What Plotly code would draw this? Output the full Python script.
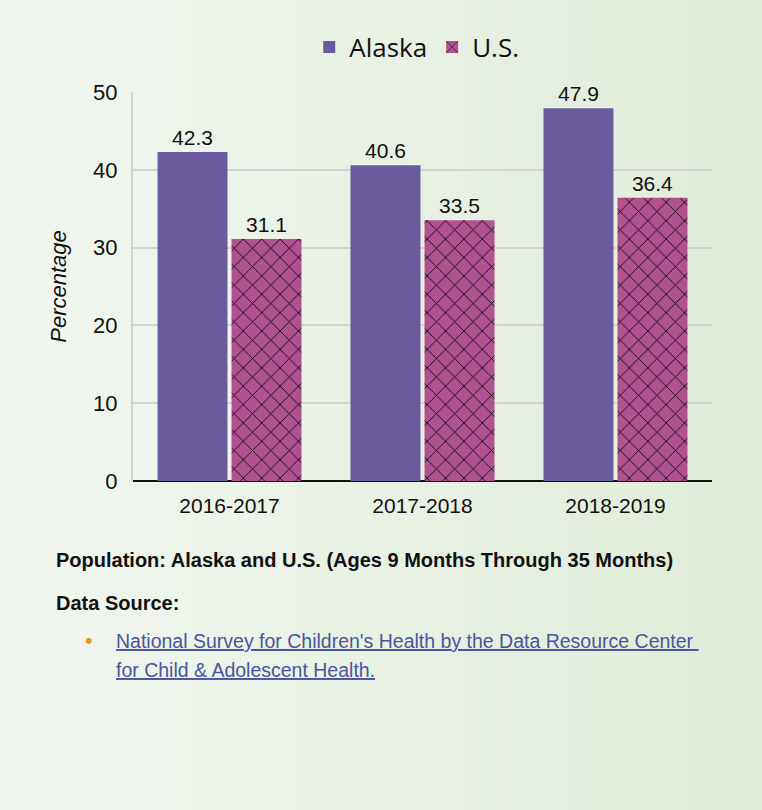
import plotly.graph_objects as go

# ---- data ----
categories = ["2016-2017", "2017-2018", "2018-2019"]
alaska_values = [42.3, 40.6, 47.9]
us_values = [31.1, 33.5, 36.4]
series_names = ["Alaska", "U.S."]
y_ticks = [0, 10, 20, 30, 40, 50]

W, H = 762, 810
ML, MR, MT, MB = 133, 50, 92, 329

ALASKA_COLOR = "#6a5a9e"
US_COLOR = "#b0528f"
FONT = "Liberation Sans, Arial, sans-serif"
NOTE_FONT = "Liberation Sans, Arial, sans-serif"

fig = go.Figure()
fig.add_trace(go.Bar(
    x=categories, y=alaska_values, name=series_names[0],
    marker=dict(color=ALASKA_COLOR, line=dict(width=0)),
    text=[f"{v:.1f}" for v in alaska_values], textposition="outside",
    textfont=dict(family=FONT, size=21, color="#111111"),
    cliponaxis=False,
))
fig.add_trace(go.Bar(
    x=categories, y=us_values, name=series_names[1],
    marker=dict(color=US_COLOR, line=dict(width=0),
                pattern=dict(shape="x", fgcolor="#000000", bgcolor=US_COLOR,
                             size=13, solidity=0.12, fillmode="replace")),
    text=[f"{v:.1f}" for v in us_values], textposition="outside",
    textfont=dict(family=FONT, size=21, color="#111111"),
    cliponaxis=False,
))

# gradient background (style only)
shapes = []
n = 60
c0 = (241, 246, 239)
c1 = (224, 236, 217)
pw = W - ML - MR
ph = H - MT - MB
for i in range(n):
    t = i / (n - 1)
    col = tuple(round(c0[k] + (c1[k] - c0[k]) * t) for k in range(3))
    x0 = (-ML + W * i / n) / pw
    x1 = (-ML + W * (i + 1) / n + 1) / pw
    shapes.append(dict(type="rect", xref="paper", yref="paper",
                       x0=x0, x1=x1, y0=-MB / ph, y1=(ph + MT) / ph,
                       fillcolor="rgb(%d,%d,%d)" % col, line=dict(width=0),
                       layer="below"))

def px_x(x):
    return (x - ML) / pw

def px_y(y):
    return (H - MB - y) / ph

annotations = [
    dict(text="<b>Population: Alaska and U.S. (Ages 9 Months Through 35 Months)</b>",
         x=px_x(54), y=px_y(560), xref="paper", yref="paper",
         xanchor="left", yanchor="middle", showarrow=False,
         font=dict(family=NOTE_FONT, size=20, color="#111111")),
    dict(text="<b>Data Source:</b>",
         x=px_x(54), y=px_y(603), xref="paper", yref="paper",
         xanchor="left", yanchor="middle", showarrow=False,
         font=dict(family=NOTE_FONT, size=20, color="#111111")),
    dict(text="•",
         x=px_x(83), y=px_y(640), xref="paper", yref="paper",
         xanchor="left", yanchor="middle", showarrow=False,
         font=dict(family=FONT, size=22, color="#e0962e")),
    dict(text="National Survey for Children's Health by the Data Resource Center ",
         x=px_x(114), y=px_y(641), xref="paper", yref="paper",
         xanchor="left", yanchor="middle", showarrow=False,
         font=dict(family=NOTE_FONT, size=19.5,
                   color="#4a55a0", lineposition="under")),
    dict(text="for Child &amp; Adolescent Health.",
         x=px_x(114), y=px_y(670), xref="paper", yref="paper",
         xanchor="left", yanchor="middle", showarrow=False,
         font=dict(family=NOTE_FONT, size=19.5,
                   color="#4a55a0", lineposition="under")),
]

fig.update_layout(
    width=W, height=H,
    margin=dict(l=ML, r=MR, t=MT, b=MB, pad=0),
    paper_bgcolor="#e8f0e3",
    plot_bgcolor="rgba(0,0,0,0)",
    barmode="group",
    bargap=0.233,
    bargroupgap=0.055,
    shapes=shapes,
    annotations=annotations,
    showlegend=True,
    legend=dict(orientation="h", x=0.49, xanchor="center", y=(H - MB - 47) / ph,
                yanchor="middle", font=dict(family="Open Sans, sans-serif", size=26, color="#111111"),
                bgcolor="rgba(0,0,0,0)", itemwidth=30, traceorder="normal"),
    font=dict(family=FONT, color="#111111"),
)
fig.update_xaxes(
    type="category", showgrid=False, showline=False, ticks="",
    ticklabelstandoff=10,
    tickfont=dict(family=FONT, size=21, color="#111111"),
)
fig.update_yaxes(
    range=[0, 50], tickvals=y_ticks, showgrid=True, gridcolor="#d3d3d3", gridwidth=2,
    zeroline=True, zerolinecolor="#111111", zerolinewidth=2,
    showline=True, linecolor="#d3d3d3", linewidth=2,
    ticks="", ticklabelstandoff=9,
    tickfont=dict(family=FONT, size=22, color="#111111"),
    title=dict(text="<i>Percentage</i>", font=dict(family=FONT, size=22, color="#111111"), standoff=20),
)

fig.write_html("out.html", config={"displayModeBar": False},
               post_script="document.body.style.margin='0';")
